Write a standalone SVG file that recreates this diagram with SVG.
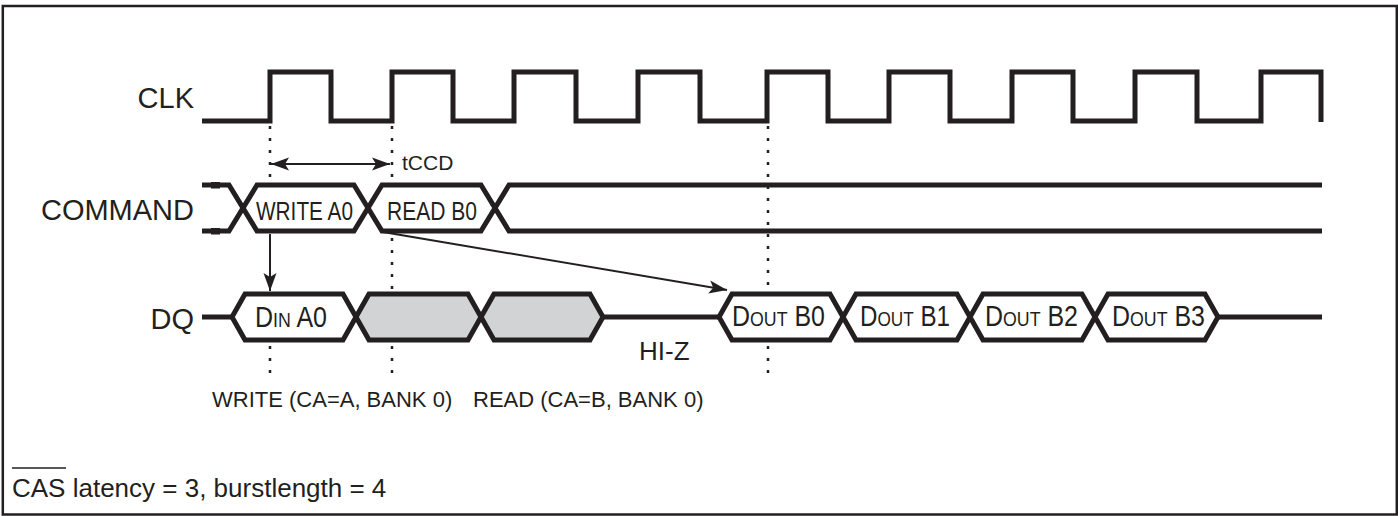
<svg xmlns="http://www.w3.org/2000/svg" width="1398" height="516" viewBox="0 0 1398 516">
<style>
text{font-family:"Liberation Sans",Arial,sans-serif;fill:#231f20}
.sig{fill:none;stroke:#231f20;stroke-width:5;stroke-linejoin:miter;stroke-linecap:butt}
.box{fill:#fff;stroke:#231f20;stroke-width:5;stroke-linejoin:miter}
.grey{fill:#d1d3d4;stroke:#231f20;stroke-width:5;stroke-linejoin:miter}
.dot{fill:none;stroke:#231f20;stroke-width:2.5;stroke-dasharray:3 9}
.arr{fill:none;stroke:#231f20;stroke-width:2}
.lbl{font-size:29px}
.bl{font-size:26.5px}
.sc{font-size:29.5px;font-variant:small-caps}
</style>
<defs>
<marker id="ah" markerUnits="userSpaceOnUse" markerWidth="20" markerHeight="14" refX="18" refY="7" orient="auto-start-reverse">
<path d="M0,0.5 L18,7 L0,13.5 L4,7 z" fill="#231f20"/>
</marker>
</defs>
<rect x="2.8" y="6" width="1394" height="508.5" fill="#fff" stroke="#231f20" stroke-width="2.5"/>

<g id="labels">
<text class="lbl" x="194" y="108" text-anchor="end">CLK</text>
<text class="lbl" x="194" y="220" text-anchor="end">COMMAND</text>
<text class="lbl" x="194" y="329" text-anchor="end">DQ</text>
</g>

<g id="clk">
<path class="sig" d="M202,121 H270 V72 H331 V121 H392 V72 H453 V121 H514 V72 H576 V121 H638 V72 H700 V121 H767 V72 H828 V121 H889 V72 H950 V121 H1012 V72 H1073 V121 H1135 V72 H1197 V121 H1261 V72 H1321 V122"/>
</g>

<g id="command">
<path class="sig" d="M202,185 H229 L257,231 H354 L382,185 H481 L509,231 H1322"/>
<path class="sig" d="M202,231 H229 L257,185 H354 L382,231 H481 L509,185 H1322"/>
<rect x="211" y="182" width="9" height="6.5" fill="#231f20"/>
<rect x="211" y="228" width="9" height="6.5" fill="#231f20"/>
</g>
<g id="write-a0"><text class="bl" x="256" y="220" textLength="97" lengthAdjust="spacingAndGlyphs">WRITE A0</text></g>
<g id="read-b0"><text class="bl" x="387" y="220" textLength="90" lengthAdjust="spacingAndGlyphs">READ B0</text></g>

<g id="dq">
<path class="sig" d="M202,317 H232"/>
<path class="sig" d="M603,317 H719"/>
<path class="sig" d="M1218,317 H1322"/>
</g>
<g id="din-a0">
<polygon class="box" points="232,317 245,294 343,294 356,317 343,340 245,340"/>
<text class="sc" x="255" y="327" textLength="72" lengthAdjust="spacingAndGlyphs">Din A0</text>
</g>
<g id="grey1"><polygon class="grey" points="356,317 369,294 468,294 481,317 468,340 369,340"/></g>
<g id="grey2"><polygon class="grey" points="481,317 494,294 590,294 603,317 590,340 494,340"/></g>
<g id="dout-b0">
<polygon class="box" points="719,317 732,294 830,294 843,317 830,340 732,340"/>
<text class="sc" x="732" y="326" textLength="93" lengthAdjust="spacingAndGlyphs">Dout B0</text>
</g>
<g id="dout-b1">
<polygon class="box" points="843,317 856,294 957,294 970,317 957,340 856,340"/>
<text class="sc" x="860" y="326" textLength="90" lengthAdjust="spacingAndGlyphs">Dout B1</text>
</g>
<g id="dout-b2">
<polygon class="box" points="970,317 983,294 1082,294 1095,317 1082,340 983,340"/>
<text class="sc" x="985" y="326" textLength="93" lengthAdjust="spacingAndGlyphs">Dout B2</text>
</g>
<g id="dout-b3">
<polygon class="box" points="1095,317 1108,294 1205,294 1218,317 1205,340 1108,340"/>
<text class="sc" x="1112" y="326" textLength="93" lengthAdjust="spacingAndGlyphs">Dout B3</text>
</g>
<g id="hiz"><text x="639" y="360" font-size="26">HI-Z</text></g>

<g id="connectors">
<path class="dot" d="M270,126 V180 M270,346 V380"/>
<path class="dot" d="M392,126 V180 M392,238 V290 M392,346 V380"/>
<path class="dot" d="M768,126 V290 M768,346 V380"/>
<line class="arr" x1="271" y1="164" x2="390" y2="164" marker-start="url(#ah)" marker-end="url(#ah)"/>
<line class="arr" x1="270" y1="234" x2="270" y2="291" marker-end="url(#ah)"/>
<line class="arr" x1="383" y1="232" x2="727" y2="290" marker-end="url(#ah)"/>
</g>
<g id="tccd"><text x="402" y="170" font-size="21">tCCD</text></g>

<g id="notes">
<text x="212" y="407" font-size="22">WRITE (CA=A, BANK 0)</text>
<text x="473" y="407" font-size="22">READ (CA=B, BANK 0)</text>
<text x="12" y="497" font-size="26">CAS latency = 3, burstlength = 4</text>
<line x1="12" y1="468" x2="66" y2="468" stroke="#231f20" stroke-width="1.6"/>
</g>
</svg>
